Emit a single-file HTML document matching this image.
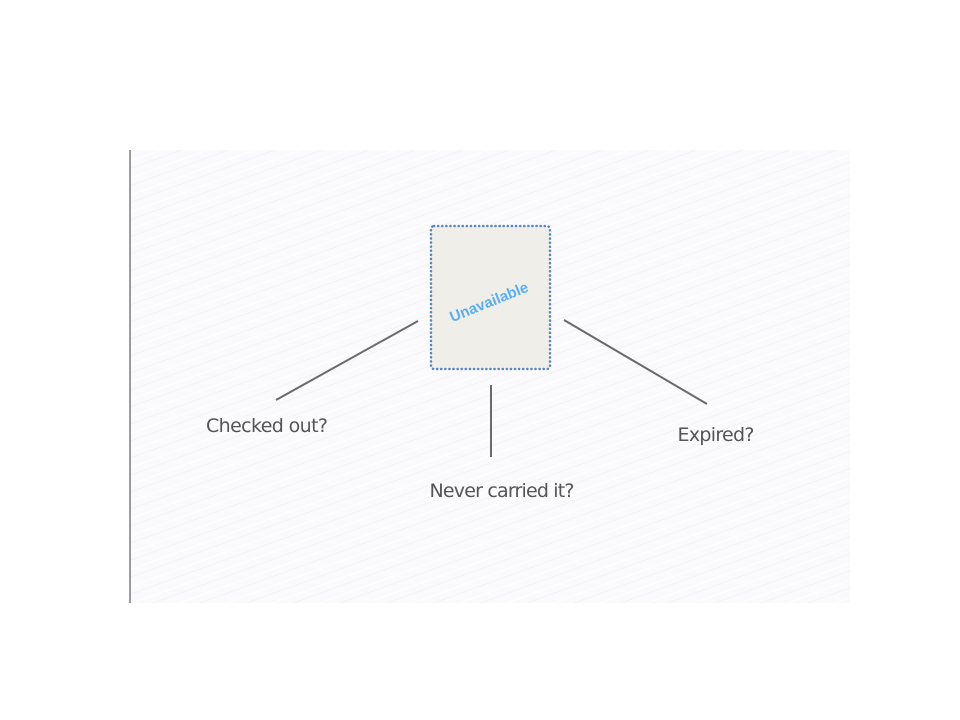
<!DOCTYPE html>
<html><head><meta charset="utf-8"><style>
html,body{margin:0;padding:0;background:#fff;width:960px;height:720px;overflow:hidden}
svg{display:block}
text{font-family:"DejaVu Sans","Liberation Sans",sans-serif}
</style></head><body>
<svg width="960" height="720">
<defs>
<pattern id="brush" width="40" height="16" patternUnits="userSpaceOnUse" patternTransform="rotate(-20)">
<rect width="40" height="16" fill="#faf9fb"/>
<line x1="0" y1="4" x2="40" y2="4" stroke="#fefefe" stroke-width="1.5"/>
<line x1="0" y1="11" x2="40" y2="11" stroke="#f3f2f5" stroke-width="1"/>
</pattern>
</defs>
<rect x="130" y="150" width="720" height="453" fill="url(#brush)"/>
<line x1="130" y1="150" x2="130" y2="603" stroke="#9a9aa2" stroke-width="2"/>
<rect x="431" y="226" width="119" height="143" rx="3" fill="#efeee9" stroke="#5585c3" stroke-width="2.5" stroke-dasharray="0.1 4" stroke-linecap="round"/>
<text x="489" y="307" text-anchor="middle" fill="#5aaef0" font-size="15" font-weight="bold" style="font-family:'Liberation Sans',sans-serif" transform="rotate(-22 489 302)">Unavailable</text>
<line x1="418" y1="321" x2="276" y2="400" stroke="#6a6a6a" stroke-width="2"/>
<line x1="491" y1="385" x2="491" y2="457" stroke="#6a6a6a" stroke-width="2"/>
<line x1="564" y1="320" x2="707" y2="404" stroke="#6a6a6a" stroke-width="2"/>
<text x="267" y="432" text-anchor="middle" fill="#555" font-size="19" textLength="122">Checked out?</text>
<text x="502" y="497" text-anchor="middle" fill="#555" font-size="19" textLength="145">Never carried it?</text>
<text x="716" y="441" text-anchor="middle" fill="#555" font-size="19" textLength="77">Expired?</text>
</svg>
</body></html>
